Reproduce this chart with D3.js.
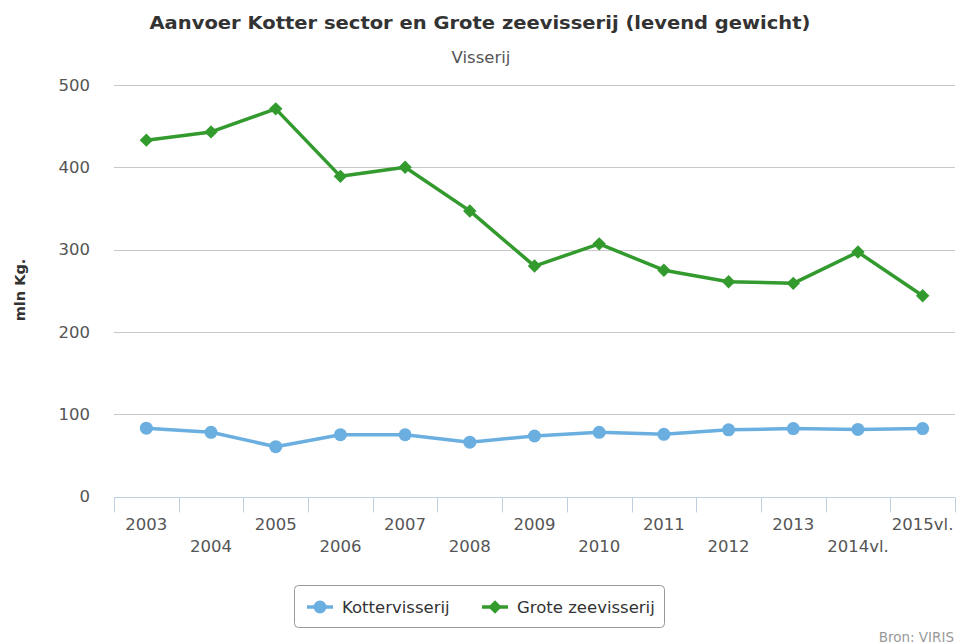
<!DOCTYPE html>
<html>
<head>
<meta charset="utf-8">
<script src="https://cdn.jsdelivr.net/npm/d3@7"></script>
<style>
  html, body { margin: 0; padding: 0; background: #fff; }
  svg { display: block; font-family: "DejaVu Sans", Verdana, sans-serif; }
</style>
</head>
<body>
<svg id="chart" width="961" height="644"></svg>
<script>
// Landings per year (mln kg, live weight)
const years = ["2003", "2004", "2005", "2006", "2007", "2008", "2009", "2010", "2011", "2012", "2013", "2014vl.", "2015vl."];
const kotterValues = [83, 78, 60.5, 75, 75, 66, 73.5, 78, 75.5, 81, 82.5, 81.5, 82.5];
const groteValues = [433, 443, 471, 389, 400, 347, 280, 307, 275, 261, 259, 297, 244];
const yTicks = [0, 100, 200, 300, 400, 500];
const seriesNames = ["Kottervisserij", "Grote zeevisserij"];

const svg = d3.select("#chart");
const plot = { left: 114, right: 955, top: 85, bottom: 496.5 };

const x = d3.scaleBand().domain(years).range([plot.left, plot.right]);
const y = d3.scaleLinear().domain([0, 500]).range([plot.bottom, plot.top]);

// Title and subtitle
svg.append("text")
  .attr("x", 480).attr("y", 29)
  .attr("text-anchor", "middle")
  .attr("font-size", 18.5).attr("font-weight", "bold")
  .attr("fill", "#333")
  .attr("textLength", 661).attr("lengthAdjust", "spacingAndGlyphs")
  .text("Aanvoer Kotter sector en Grote zeevisserij (levend gewicht)");

svg.append("text")
  .attr("x", 481).attr("y", 63)
  .attr("text-anchor", "middle")
  .attr("font-size", 16.5)
  .attr("fill", "#555")
  .text("Visserij");

// Horizontal grid lines
svg.append("g")
  .selectAll("line")
  .data(yTicks.filter(d => d > 0))
  .join("line")
  .attr("x1", plot.left).attr("x2", plot.right)
  .attr("y1", d => Math.round(y(d)) + 0.5).attr("y2", d => Math.round(y(d)) + 0.5)
  .attr("stroke", "#c8c8c8").attr("stroke-width", 1);

// Y axis labels
const yAxis = svg.append("g")
  .attr("transform", `translate(${plot.left},0)`)
  .call(d3.axisLeft(y).tickValues(yTicks).tickSize(0).tickPadding(24));
yAxis.select(".domain").remove();
yAxis.selectAll("text")
  .attr("font-size", 16.5).attr("fill", "#555")
  .attr("font-family", "DejaVu Sans, sans-serif");

// Y axis title
svg.append("text")
  .attr("transform", `translate(25,290) rotate(-90)`)
  .attr("text-anchor", "middle")
  .attr("font-size", 14.5).attr("font-weight", "bold")
  .attr("fill", "#333")
  .text("mln Kg.");

// X axis with tick marks at category boundaries
const xAxisG = svg.append("g").attr("transform", `translate(0,${Math.round(plot.bottom) + 0.5})`);
xAxisG.append("line")
  .attr("x1", plot.left).attr("x2", plot.right)
  .attr("stroke", "#c0d0e0").attr("stroke-width", 1);
const boundaries = years.map(d => x(d)).concat([x.range()[1]]);
xAxisG.selectAll("line.tick")
  .data(boundaries)
  .join("line")
  .attr("class", "tick")
  .attr("x1", d => Math.round(d) + 0.5).attr("x2", d => Math.round(d) + 0.5)
  .attr("y1", 0).attr("y2", 15)
  .attr("stroke", "#c0d0e0").attr("stroke-width", 1);
xAxisG.selectAll("text")
  .data(years)
  .join("text")
  .attr("x", d => x(d) + x.bandwidth() / 2)
  .attr("y", (d, i) => i % 2 === 0 ? 32 : 54)
  .attr("text-anchor", "middle")
  .attr("font-size", 16.5).attr("fill", "#555")
  .text(d => d);

// Series lines
const cx = d => x(d) + x.bandwidth() / 2;
const line = vals => d3.line().x((d, i) => cx(years[i])).y(d => y(d))(vals);

const kotterColor = "#6aafe0";
const groteColor = "#339a2e";

svg.append("path")
  .attr("d", line(kotterValues))
  .attr("fill", "none").attr("stroke", kotterColor).attr("stroke-width", 3.5)
  .attr("stroke-linejoin", "round");
svg.append("path")
  .attr("d", line(groteValues))
  .attr("fill", "none").attr("stroke", groteColor).attr("stroke-width", 3.5)
  .attr("stroke-linejoin", "round");

// Markers: filled circles and square diamonds
const circleSym = d3.symbol().type(d3.symbolCircle).size(Math.PI * 6.5 * 6.5);
const squareSym = d3.symbol().type(d3.symbolSquare).size(90);

svg.append("g").selectAll("path")
  .data(kotterValues)
  .join("path")
  .attr("transform", (d, i) => `translate(${cx(years[i])},${y(d)})`)
  .attr("d", circleSym())
  .attr("fill", kotterColor);

svg.append("g").selectAll("path")
  .data(groteValues)
  .join("path")
  .attr("transform", (d, i) => `translate(${cx(years[i])},${y(d)}) rotate(45)`)
  .attr("d", squareSym())
  .attr("fill", groteColor);

// Legend
const legend = svg.append("g");
legend.append("rect")
  .attr("x", 294.5).attr("y", 585.5).attr("width", 370).attr("height", 42)
  .attr("rx", 4).attr("ry", 4)
  .attr("fill", "#fff").attr("stroke", "#999").attr("stroke-width", 1);

const legendItems = [
  { name: seriesNames[0], color: kotterColor, sym: circleSym, rot: 0, x: 307 },
  { name: seriesNames[1], color: groteColor, sym: squareSym, rot: 45, x: 482 }
];
legendItems.forEach(item => {
  legend.append("line")
    .attr("x1", item.x).attr("x2", item.x + 26)
    .attr("y1", 607).attr("y2", 607)
    .attr("stroke", item.color).attr("stroke-width", 3.5);
  legend.append("path")
    .attr("transform", `translate(${item.x + 13},607) rotate(${item.rot})`)
    .attr("d", item.sym())
    .attr("fill", item.color);
  legend.append("text")
    .attr("x", item.x + 35).attr("y", 613)
    .attr("font-size", 16.5).attr("fill", "#333")
    .text(item.name);
});

// Source credit
svg.append("text")
  .attr("x", 954).attr("y", 642)
  .attr("text-anchor", "end")
  .attr("font-size", 13.5).attr("fill", "#999")
  .text("Bron: VIRIS");
</script>
</body>
</html>
